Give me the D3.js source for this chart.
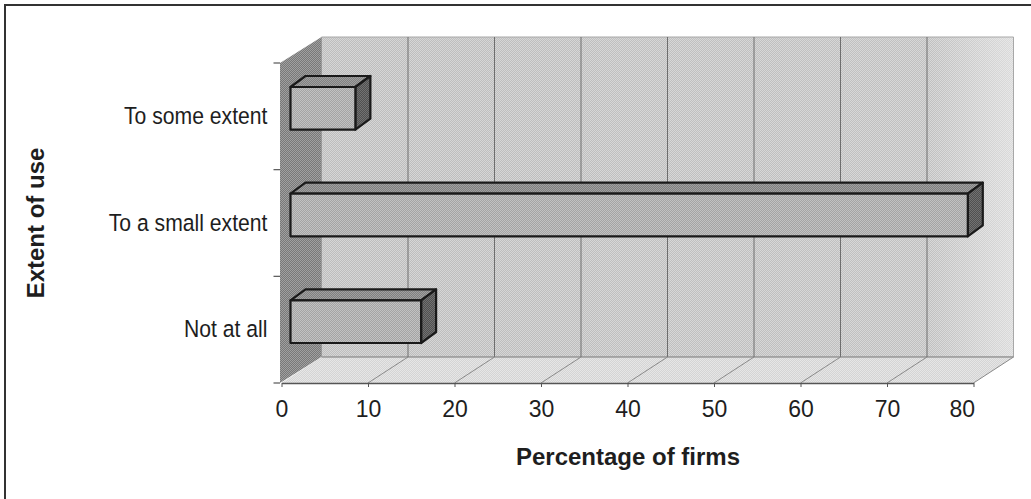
<!DOCTYPE html>
<html>
<head>
<meta charset="utf-8">
<script src="https://cdn.jsdelivr.net/npm/d3@7"></script>
<style>
  html, body { margin: 0; padding: 0; background: #ffffff; }
  svg { display: block; }
  text { font-family: Arial, "Liberation Sans", sans-serif; fill: #1e1e1e; }
</style>
</head>
<body>
<svg id="chart" width="1031" height="499"></svg>
<script>
// ---- data ----
const categories = ["Not at all", "To a small extent", "To some extent"];
const values = [15.1, 78.3, 7.5];
const xTicks = [0, 10, 20, 30, 40, 50, 60, 70, 80];
const xTitle = "Percentage of firms";
const yTitle = "Extent of use";

// ---- layout ----
const svg = d3.select("#chart");
const W = 1031, H = 499;
const DX = 40, DY = -26;           // wall depth offset
const BOFF = [9, -8];              // bar front offset from front plane
const BD = [15, -11];              // bar depth

const x = d3.scaleLinear().domain([0, 80]).range([281.5, 973.5]);
const y = d3.scaleBand().domain(categories).range([383, 63]);
const x0 = x(0), x1 = x(80), yTop = 63, yBot = 383;

const defs = svg.append("defs");
function checker(id, c1, c2) {
  const p = defs.append("pattern").attr("id", id).attr("width", 2).attr("height", 2)
    .attr("patternUnits", "userSpaceOnUse");
  p.append("rect").attr("width", 2).attr("height", 2).attr("fill", c1);
  p.append("rect").attr("width", 1).attr("height", 1).attr("fill", c2);
  p.append("rect").attr("x", 1).attr("y", 1).attr("width", 1).attr("height", 1).attr("fill", c2);
}
checker("pBack", "#bdbdbd", "#d6d6d6");
checker("pLeft", "#787878", "#a0a0a0");
checker("pFloor", "#d4d4d4", "#e6e6e6");
checker("pFront", "#a4a4a4", "#c2c2c2");
checker("pTop", "#808080", "#a0a0a0");
checker("pSide", "#505050", "#727272");

const gl = defs.append("linearGradient").attr("id", "gBackLight")
  .attr("x1", 0).attr("x2", 1).attr("y1", 0).attr("y2", 0);
gl.append("stop").attr("offset", "0%").attr("stop-color", "#fff").attr("stop-opacity", 0);
gl.append("stop").attr("offset", "88%").attr("stop-color", "#fff").attr("stop-opacity", 0.05);
gl.append("stop").attr("offset", "100%").attr("stop-color", "#fff").attr("stop-opacity", 0.45);

const line = d3.line();

// frame
svg.append("path").attr("d", line([[5, H], [5, 5], [W, 5]]))
  .attr("fill", "none").attr("stroke", "#333").attr("stroke-width", 2);

// back wall
const backPts = [[x0 + DX, yTop + DY], [x1 + DX, yTop + DY], [x1 + DX, yBot + DY], [x0 + DX, yBot + DY]];
svg.append("path").attr("d", line(backPts) + "Z").attr("fill", "url(#pBack)");
svg.append("path").attr("d", line(backPts) + "Z").attr("fill", "url(#gBackLight)")
  .attr("stroke", "#a8a8a8").attr("stroke-width", 1);

// left wall
const leftPts = [[x0 - 1.5, yTop], [x0 + DX, yTop + DY], [x0 + DX, yBot + DY], [x0 - 1.5, yBot]];
svg.append("path").attr("d", line(leftPts) + "Z").attr("fill", "url(#pLeft)");

// floor
const floorPts = [[x0, yBot], [x0 + DX, yBot + DY], [x1 + DX, yBot + DY], [x1, yBot]];
svg.append("path").attr("d", line(floorPts) + "Z").attr("fill", "url(#pFloor)");
svg.append("path").attr("d", line([[x0 + DX, yBot + DY], [x1 + DX, yBot + DY]]))
  .attr("stroke", "#9a9a9a").attr("stroke-width", 1.5);

// gridlines: back wall verticals and floor diagonals
const grid = svg.append("g").attr("stroke", "#6e6e6e").attr("stroke-width", 1).attr("fill", "none");
xTicks.filter(v => v > 0 && v < 80).forEach(v => {
  grid.append("path").attr("d", line([[x(v) + DX, yTop + DY], [x(v) + DX, yBot + DY]]));
});
xTicks.filter(v => v > 0).forEach(v => {
  grid.append("path").attr("d", line([[x(v), yBot], [x(v) + DX, yBot + DY]])).attr("stroke", "#8a8a8a");
});

// bars
const bars = svg.append("g");
categories.forEach((c, i) => {
  const bw = y.bandwidth();
  const h = bw * 0.4;
  const cy = y(c) + bw / 2 + BOFF[1];
  const t = cy - h / 2, b = cy + h / 2;
  const L = x(0) + BOFF[0], R = x(values[i]) + BOFF[0];
  const g = bars.append("g").attr("stroke", "#1a1a1a").attr("stroke-width", 2.2).attr("stroke-linejoin", "round");
  g.append("path").attr("fill", "url(#pTop)")
    .attr("d", line([[L, t], [L + BD[0], t + BD[1]], [R + BD[0], t + BD[1]], [R, t]]) + "Z");
  g.append("path").attr("fill", "url(#pSide)")
    .attr("d", line([[R, t], [R + BD[0], t + BD[1]], [R + BD[0], b + BD[1]], [R, b]]) + "Z");
  g.append("path").attr("fill", "url(#pFront)")
    .attr("d", line([[L, t], [R, t], [R, b], [L, b]]) + "Z");
});

// x axis
const xAxis = svg.append("g").attr("transform", `translate(0,${yBot})`)
  .call(d3.axisBottom(x).tickValues(xTicks).tickSize(4).tickSizeOuter(0).tickPadding(14));
xAxis.select(".domain").attr("stroke", "#555").attr("stroke-width", 1.5);
xAxis.selectAll(".tick line").attr("stroke", "#555");
xAxis.selectAll(".tick text").attr("font-size", 23).attr("fill", "#1e1e1e")
  .style("font-family", "Arial, 'Liberation Sans', sans-serif");
xAxis.selectAll(".tick text").filter(d => d === 80).attr("text-anchor", "end").attr("x", 1);

// y axis
const yAxis = svg.append("g").attr("transform", `translate(${x0 - 1.5},0)`)
  .call(d3.axisLeft(y).tickSize(0).tickPadding(14));
yAxis.select(".domain").remove();
yAxis.selectAll(".tick text").attr("font-size", 23.5).attr("fill", "#1e1e1e")
  .attr("transform", "scale(0.9,1)")
  .style("font-family", "Arial, 'Liberation Sans', sans-serif");
// category boundary tick marks
const bounds = categories.map(c => y(c)).concat([yBot]);
svg.append("g").selectAll("path").data(bounds).join("path")
  .attr("d", d => line([[x0 - 8, d], [x0 - 1.5, d]]))
  .attr("stroke", "#555").attr("stroke-width", 1.2);

// titles
svg.append("text").attr("x", 628).attr("y", 465).attr("text-anchor", "middle")
  .attr("font-size", 24).attr("font-weight", "bold").text(xTitle);
svg.append("text").attr("transform", "translate(44,223) rotate(-90)").attr("text-anchor", "middle")
  .attr("font-size", 24).attr("font-weight", "bold").text(yTitle);
</script>
</body>
</html>
